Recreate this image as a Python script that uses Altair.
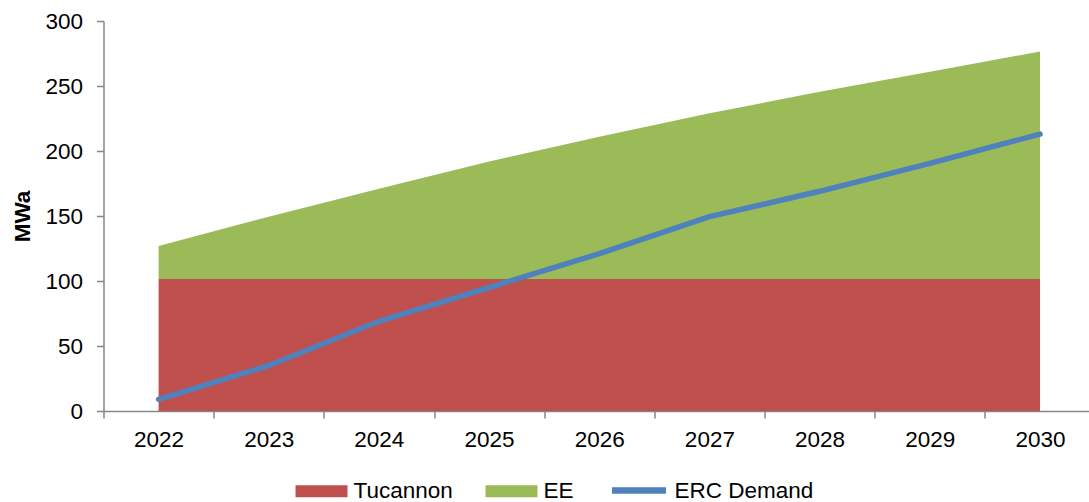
import altair as alt
import pandas as pd

years = [2022, 2023, 2024, 2025, 2026, 2027, 2028, 2029, 2030]
tucannon = [101.5, 101.5, 101.5, 101.5, 101.5, 101.5, 101.5, 101.5, 101.5]
ee = [25.5, 48.0, 69.5, 90.5, 109.5, 127.5, 144.0, 159.5, 175.0]
erc_demand = [9.0, 35.0, 69.0, 95.0, 121.0, 149.5, 169.0, 190.5, 213.0]

series_fill = ["Tucannon", "EE"]
fill_colors = ["#C0504D", "#9BBB59"]
line_name = "ERC Demand"
line_color = "#4F81BD"

y_ticks = [0, 50, 100, 150, 200, 250, 300]
x_boundaries = [y - 0.5 for y in years]

FONT = "Liberation Sans"
FS = 22.5

area_df = pd.DataFrame(
    [{"year": y, "series": "Tucannon", "value": v, "ord": 0} for y, v in zip(years, tucannon)]
    + [{"year": y, "series": "EE", "value": v, "ord": 1} for y, v in zip(years, ee)]
)
line_df = pd.DataFrame({"year": years, "value": erc_demand, "series": [line_name] * len(years)})

x_scale = alt.Scale(domain=[2021.5, 2030.44], nice=False, zero=False)
y_scale = alt.Scale(domain=[0, 300], nice=False)

x_axis = alt.Axis(
    values=x_boundaries,
    labelExpr="format(floor(datum.value) + 1, 'd')",
    labelOffset=55,
    labelOverlap=False,
    labelFlush=False,
    labelBound=False,
    title=None,
    grid=False,
    tickSize=7,
    labelPadding=10,
)
y_axis = alt.Axis(
    values=y_ticks,
    title="MWa",
    grid=False,
    tickSize=7,
    labelPadding=14,
    titleFontWeight="bold",
    titleX=-81,
    titleY=195,
    titleAngle=-90,
    titleAlign="center",
    titleBaseline="middle",
)

areas = alt.Chart(area_df).mark_area(opacity=1).encode(
    x=alt.X("year:Q", scale=x_scale, axis=x_axis),
    y=alt.Y("value:Q", stack="zero", scale=y_scale, axis=y_axis),
    fill=alt.Fill(
        "series:N",
        scale=alt.Scale(domain=series_fill, range=fill_colors),
        legend=alt.Legend(
            orient="none",
            legendX=192,
            legendY=444,
            direction="horizontal",
            title=None,
            symbolType="M-1,-0.23H1V0.23H-1Z",
            symbolSize=2704,
            symbolStrokeWidth=0,
            labelOffset=6,
            columnPadding=32,
        ),
    ),
    order=alt.Order("ord:Q"),
)

line = alt.Chart(line_df).mark_line(strokeWidth=5.5, strokeCap="round", strokeJoin="round").encode(
    x=alt.X("year:Q", scale=x_scale),
    y=alt.Y("value:Q", scale=y_scale),
    stroke=alt.Stroke(
        "series:N",
        scale=alt.Scale(domain=[line_name], range=[line_color]),
        legend=alt.Legend(
            orient="none",
            legendX=505,
            legendY=439,
            direction="horizontal",
            title=None,
            symbolType="stroke",
            symbolSize=2916,
            symbolStrokeWidth=6.5,
            labelOffset=5,
        ),
    ),
)

chart = (
    alt.layer(areas, line)
    .properties(
        width=985,
        height=390,
        autosize=alt.AutoSizeParams(type="none"),
        padding={"left": 103.5, "top": 21, "right": 0, "bottom": 91},
    )
    .configure_view(stroke=None)
    .configure_axis(
        domainColor="#868686",
        domainWidth=1.5,
        tickColor="#868686",
        tickWidth=1.5,
        labelFont=FONT,
        labelFontSize=FS,
        labelColor="#000000",
        titleFont=FONT,
        titleFontSize=FS,
        titleColor="#000000",
    )
    .configure_legend(
        labelFont=FONT,
        labelFontSize=FS,
        labelColor="#000000",
        labelLimit=300,
    )
)

chart.save("out.html", embed_options={"renderer": "svg", "actions": False})
